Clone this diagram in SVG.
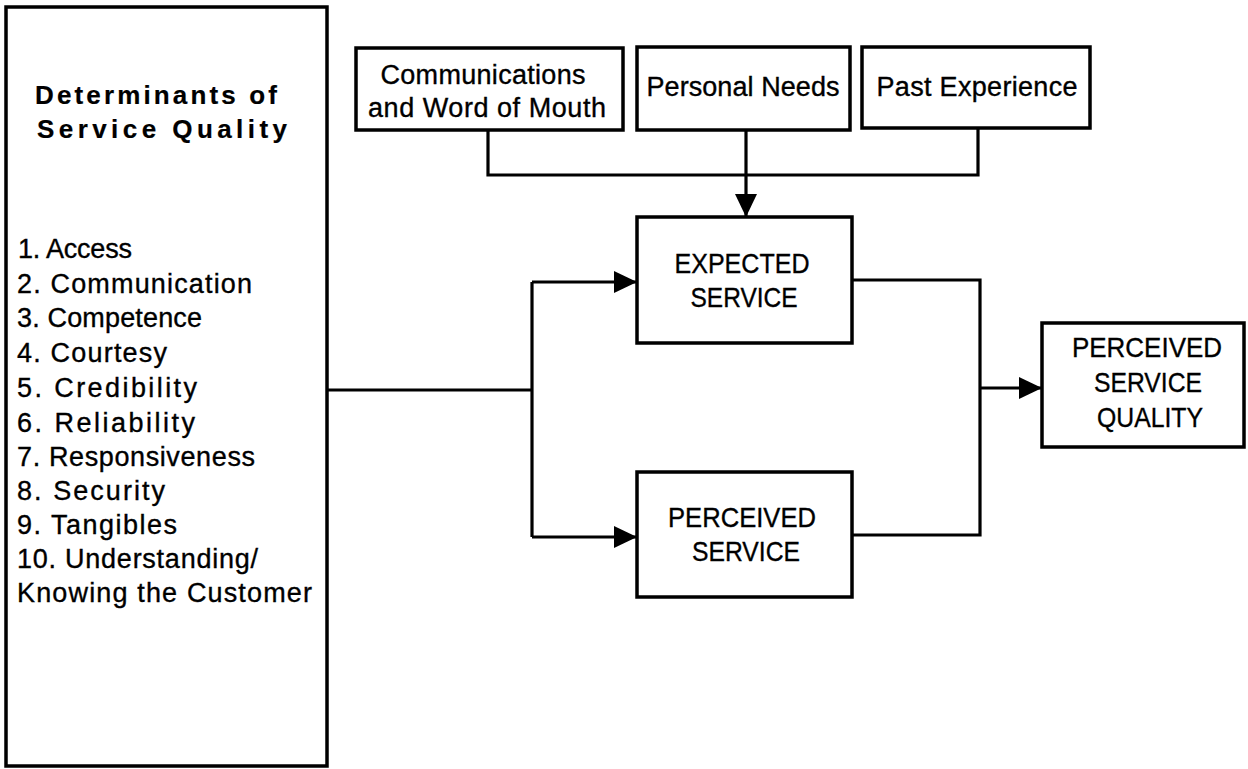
<svg xmlns="http://www.w3.org/2000/svg" width="1248" height="769" viewBox="0 0 1248 769">
  <style>
    .box { fill: #fff; stroke: #000; stroke-width: 3.5; }
    .wire { fill: none; stroke: #000; stroke-width: 3.2; }
    text { font-family: "Liberation Sans", Arial, Helvetica, sans-serif; fill: #000; stroke: #000; stroke-width: 0.35; }
    .title { font-size: 26px; font-weight: bold; stroke-width: 0.2; }
    .item { font-size: 27px; }
    .lbl { font-size: 27px; text-anchor: middle; }
    .cap { font-size: 28px; text-anchor: middle; }
  </style>
  <defs>
    <marker id="arrow" markerUnits="userSpaceOnUse" markerWidth="24" markerHeight="22" refX="23" refY="11" orient="auto">
      <path d="M0,0 L23,11 L0,22 z" fill="#000"/>
    </marker>
  </defs>
  <rect width="1248" height="769" fill="#fff"/>

  <!-- Determinants list -->
  <g id="determinants" xml:space="preserve">
    <rect class="box" x="6" y="7" width="321" height="759"/>
    <text class="title" x="35" y="104" textLength="242" lengthAdjust="spacing">Determinants  of</text>
    <text class="title" x="37" y="138" textLength="250" lengthAdjust="spacing">Service  Quality</text>
    <text class="item" x="18" y="258" textLength="114" lengthAdjust="spacing">1. Access</text>
    <text class="item" x="17" y="293" textLength="235" lengthAdjust="spacing">2.  Communication</text>
    <text class="item" x="17" y="327" textLength="185" lengthAdjust="spacing">3. Competence</text>
    <text class="item" x="17" y="362" textLength="150" lengthAdjust="spacing">4.  Courtesy</text>
    <text class="item" x="17" y="397" textLength="180" lengthAdjust="spacing">5.   Credibility</text>
    <text class="item" x="17" y="432" textLength="178" lengthAdjust="spacing">6.   Reliability</text>
    <text class="item" x="17" y="466" textLength="238" lengthAdjust="spacing">7. Responsiveness</text>
    <text class="item" x="17" y="500" textLength="148" lengthAdjust="spacing">8.  Security</text>
    <text class="item" x="17" y="534" textLength="160" lengthAdjust="spacing">9.  Tangibles</text>
    <text class="item" x="17" y="568" textLength="241" lengthAdjust="spacing">10. Understanding/</text>
    <text class="item" x="17" y="602" textLength="295" lengthAdjust="spacing">Knowing the Customer</text>
  </g>

  <!-- Expectation inputs -->
  <g id="communications">
    <rect class="box" x="356" y="48" width="267" height="82"/>
    <text class="lbl" x="483" y="84" textLength="205" lengthAdjust="spacing">Communications</text>
    <text class="lbl" x="487" y="117" textLength="238" lengthAdjust="spacing">and Word of Mouth</text>
  </g>
  <g id="personal-needs">
    <rect class="box" x="637" y="47" width="213" height="83"/>
    <text class="lbl" x="743" y="96" textLength="193" lengthAdjust="spacing">Personal Needs</text>
  </g>
  <g id="past-experience">
    <rect class="box" x="862" y="47" width="228" height="81"/>
    <text class="lbl" x="977" y="96" textLength="201" lengthAdjust="spacing">Past Experience</text>
  </g>

  <!-- Service boxes -->
  <g id="expected-service">
    <rect class="box" x="637" y="217" width="215" height="126"/>
    <text class="cap" x="742" y="273" textLength="135" lengthAdjust="spacingAndGlyphs">EXPECTED</text>
    <text class="cap" x="744" y="307" textLength="107" lengthAdjust="spacingAndGlyphs">SERVICE</text>
  </g>
  <g id="perceived-service">
    <rect class="box" x="637" y="472" width="215" height="125"/>
    <text class="cap" x="742" y="527" textLength="148" lengthAdjust="spacingAndGlyphs">PERCEIVED</text>
    <text class="cap" x="746" y="561" textLength="108" lengthAdjust="spacingAndGlyphs">SERVICE</text>
  </g>
  <g id="perceived-quality">
    <rect class="box" x="1042" y="323" width="202" height="124"/>
    <text class="cap" x="1147" y="357" textLength="150" lengthAdjust="spacingAndGlyphs">PERCEIVED</text>
    <text class="cap" x="1148" y="392" textLength="108" lengthAdjust="spacingAndGlyphs">SERVICE</text>
    <text class="cap" x="1150" y="427" textLength="106" lengthAdjust="spacingAndGlyphs">QUALITY</text>
  </g>

  <!-- Connectors -->
  <g id="connectors">
    <path class="wire" d="M488 130 V175 H978 V128"/>
    <path class="wire" d="M746 130 V217" marker-end="url(#arrow)"/>
    <path class="wire" d="M327 390 H532"/>
    <path class="wire" d="M532 282 V537"/>
    <path class="wire" d="M532 282 H637" marker-end="url(#arrow)"/>
    <path class="wire" d="M532 537 H637" marker-end="url(#arrow)"/>
    <path class="wire" d="M852 280 H980 V535 H852"/>
    <path class="wire" d="M980 388 H1042" marker-end="url(#arrow)"/>
  </g>
</svg>
